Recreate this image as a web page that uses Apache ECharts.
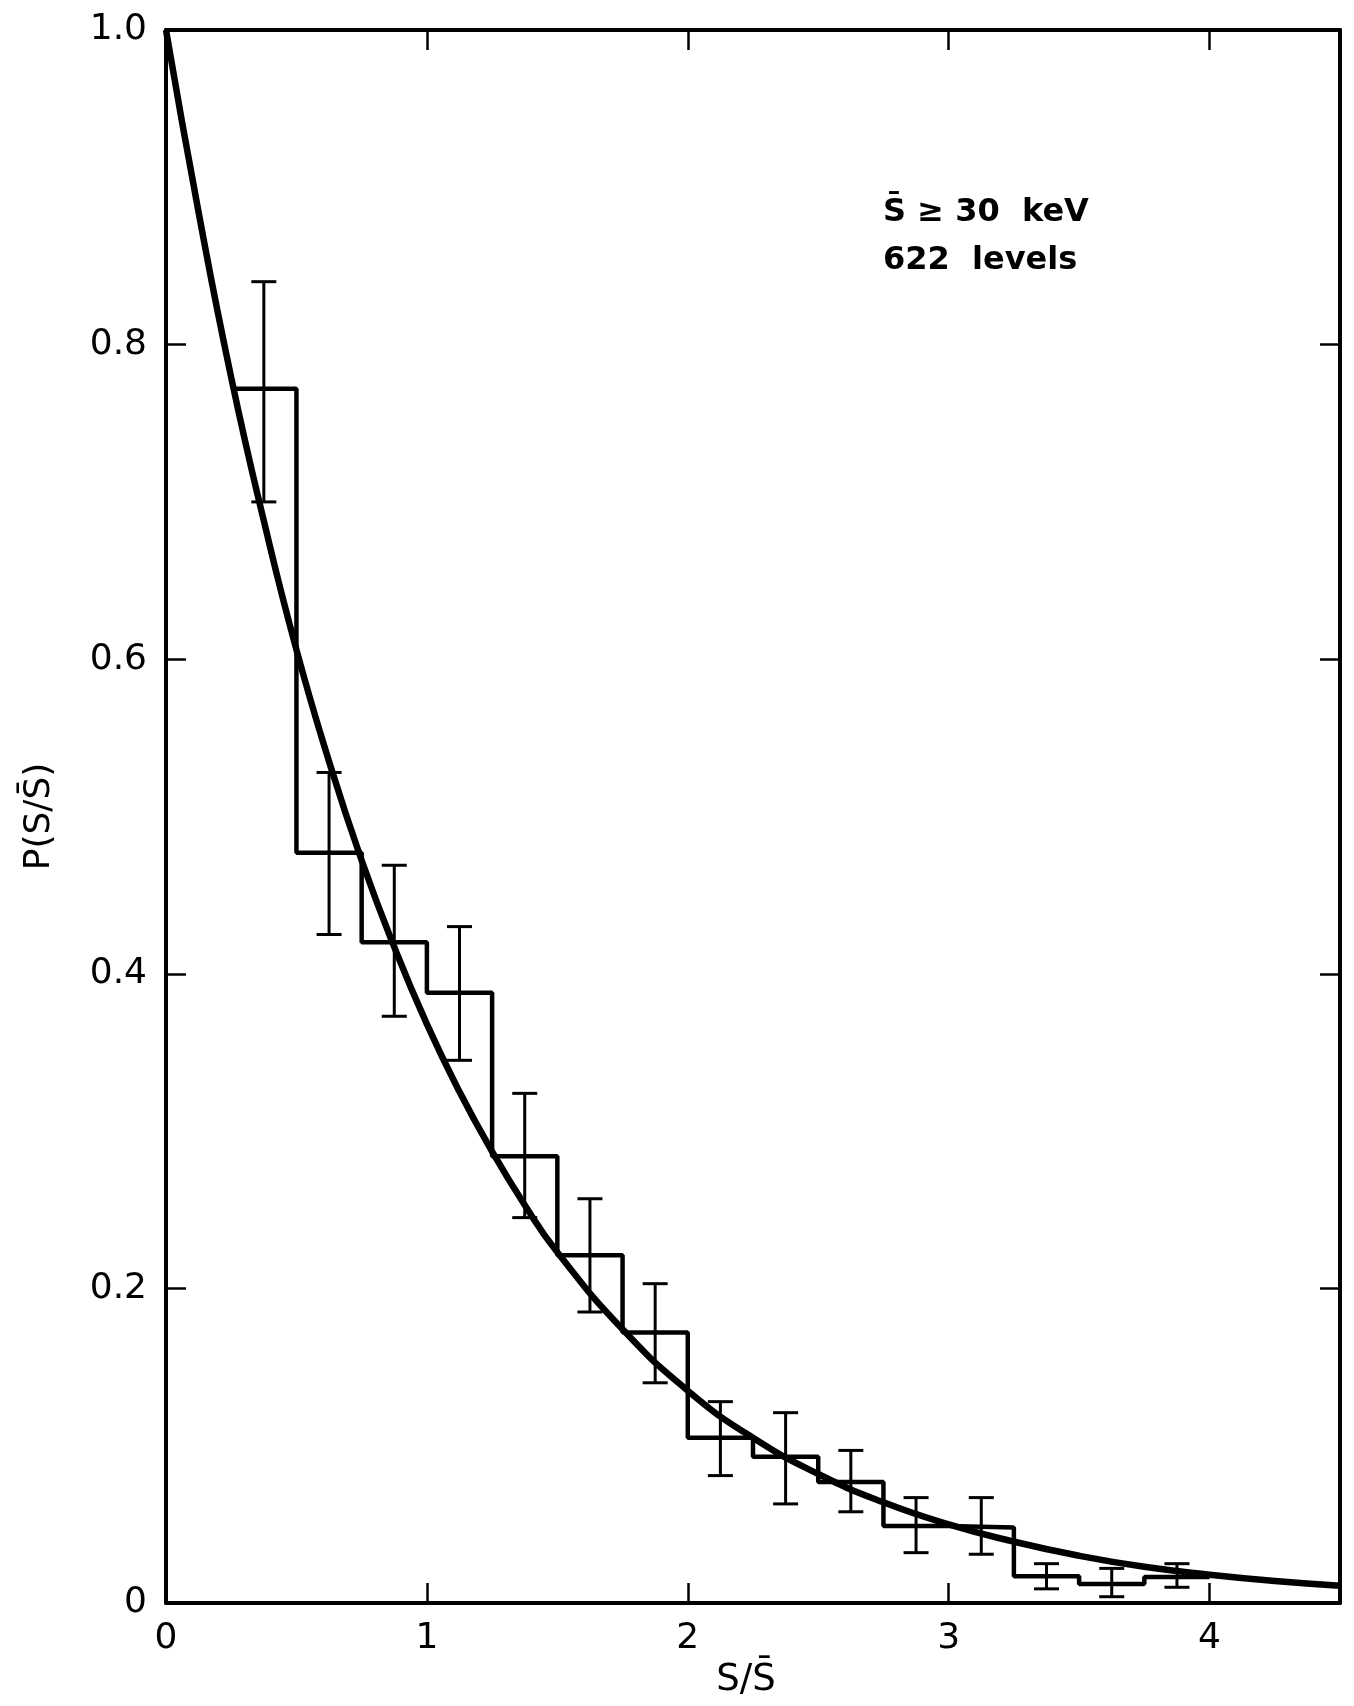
<!DOCTYPE html>
<html>
<head>
<meta charset="utf-8">
<script src="https://cdn.jsdelivr.net/npm/echarts@6/dist/echarts.min.js"></script>
<style>
  html, body { margin: 0; padding: 0; background: #fff; }
  #chart { width: 1354px; height: 1706px; }
</style>
</head>
<body>
<div id="chart"></div>
<script>
// histogram bins (left edge), last bin closes at 4.0
var binLeft = [0.25, 0.5, 0.75, 1.0, 1.25, 1.5, 1.75, 2.0, 2.25, 2.5, 2.75, 3.0, 3.25, 3.5, 3.75];
var binEnd = 4.0;
var binHeight = [0.772, 0.477, 0.420, 0.388, 0.284, 0.221, 0.172, 0.105, 0.093, 0.077, 0.049, 0.048, 0.017, 0.012, 0.0165];

// error bars at bin centres
var errX = [0.375, 0.625, 0.875, 1.125, 1.375, 1.625, 1.875, 2.125, 2.375, 2.625, 2.875, 3.125, 3.375, 3.625, 3.875];
var errLow = [0.700, 0.425, 0.373, 0.345, 0.245, 0.185, 0.140, 0.081, 0.063, 0.058, 0.032, 0.031, 0.009, 0.004, 0.010];
var errHigh = [0.840, 0.528, 0.469, 0.430, 0.324, 0.257, 0.203, 0.128, 0.121, 0.097, 0.067, 0.067, 0.025, 0.022, 0.025];

// smooth curve
var curveX = [0, 0.125, 0.25, 0.375, 0.5, 0.625, 0.75, 0.875, 1.0, 1.125, 1.25, 1.375, 1.5, 1.75, 2.0, 2.25, 2.5, 2.75, 3.0, 3.25, 3.5, 3.75, 4.0, 4.25, 4.5];
var curveY = [1.0, 0.884, 0.779, 0.688, 0.606, 0.535, 0.472, 0.417, 0.368, 0.325, 0.287, 0.253, 0.223, 0.174, 0.135, 0.105, 0.082, 0.064, 0.050, 0.039, 0.030, 0.023, 0.018, 0.014, 0.011];

var FONT = 'DejaVu Sans';

var histData = binLeft.map(function (x, i) { return [x, binHeight[i]]; });
histData.push([binEnd, binHeight[binHeight.length - 1]]);

var curveData = curveX.map(function (x, i) { return [x, curveY[i]]; });
var errData = errX.map(function (x, i) { return [x, errLow[i], errHigh[i]]; });

var chart = echarts.init(document.getElementById('chart'));

var axisLine = { show: true, onZero: false, lineStyle: { color: '#000', width: 4 } };
var axisTick = { show: true, inside: true, length: 20, lineStyle: { color: '#000', width: 2.5 } };

chart.setOption({
  backgroundColor: '#fff',
  animation: false,
  grid: { left: 166, right: 14, top: 30, bottom: 103 },
  xAxis: [
    {
      type: 'value', min: 0, max: 4.5, interval: 1,
      position: 'bottom',
      axisLine: axisLine, axisTick: axisTick,
      splitLine: { show: false },
      axisLabel: {
        margin: 18, color: '#000', fontFamily: FONT, fontSize: 36,
        formatter: function (v) { return v % 1 === 0 ? String(v) : ''; }
      },
      name: 'S/S\u0304',
      nameLocation: 'middle',
      nameGap: 58,
      nameTextStyle: { color: '#000', fontFamily: FONT, fontSize: 37, padding: [0, 14, 0, 0] }
    },
    {
      type: 'value', min: 0, max: 4.5, interval: 1,
      position: 'top',
      axisLine: axisLine, axisTick: axisTick,
      splitLine: { show: false },
      axisLabel: { show: false }
    }
  ],
  yAxis: [
    {
      type: 'value', min: 0, max: 1.0, interval: 0.2,
      position: 'left',
      axisLine: axisLine, axisTick: axisTick,
      splitLine: { show: false },
      axisLabel: {
        margin: 19, color: '#000', fontFamily: FONT, fontSize: 36,
        formatter: function (v) { return v === 0 ? '0' : v.toFixed(1); }
      },
      name: 'P(S/S\u0304)',
      nameLocation: 'middle',
      nameGap: 108,
      nameTextStyle: { color: '#000', fontFamily: FONT, fontSize: 36 }
    },
    {
      type: 'value', min: 0, max: 1.0, interval: 0.2,
      position: 'right',
      axisLine: axisLine, axisTick: axisTick,
      splitLine: { show: false },
      axisLabel: { show: false }
    }
  ],
  graphic: [
    {
      type: 'text', left: 883, top: 197,
      style: { text: 'S\u0304 \u2265 30  keV', fill: '#000', font: 'bold 32px "DejaVu Sans"' }
    },
    {
      type: 'text', left: 883, top: 245,
      style: { text: '622  levels', fill: '#000', font: 'bold 32px "DejaVu Sans"' }
    }
  ],
  series: [
    {
      name: 'histogram',
      type: 'line',
      step: 'end',
      data: histData,
      showSymbol: false,
      symbol: 'none',
      lineStyle: { color: '#000', width: 4.5 },
      z: 3
    },
    {
      name: 'curve',
      type: 'line',
      smooth: true,
      data: curveData,
      showSymbol: false,
      symbol: 'none',
      lineStyle: { color: '#000', width: 6.5 },
      z: 4
    },
    {
      name: 'errors',
      type: 'custom',
      data: errData,
      encode: { x: 0, y: [1, 2] },
      z: 5,
      renderItem: function (params, api) {
        var lo = api.coord([api.value(0), api.value(1)]);
        var hi = api.coord([api.value(0), api.value(2)]);
        var hw = 12.5;
        var st = { stroke: '#000', lineWidth: 3 };
        return {
          type: 'group',
          children: [
            { type: 'line', shape: { x1: lo[0], y1: lo[1], x2: hi[0], y2: hi[1] }, style: st },
            { type: 'line', shape: { x1: lo[0] - hw, y1: lo[1], x2: lo[0] + hw, y2: lo[1] }, style: st },
            { type: 'line', shape: { x1: hi[0] - hw, y1: hi[1], x2: hi[0] + hw, y2: hi[1] }, style: st }
          ]
        };
      }
    }
  ]
});
</script>
</body>
</html>
